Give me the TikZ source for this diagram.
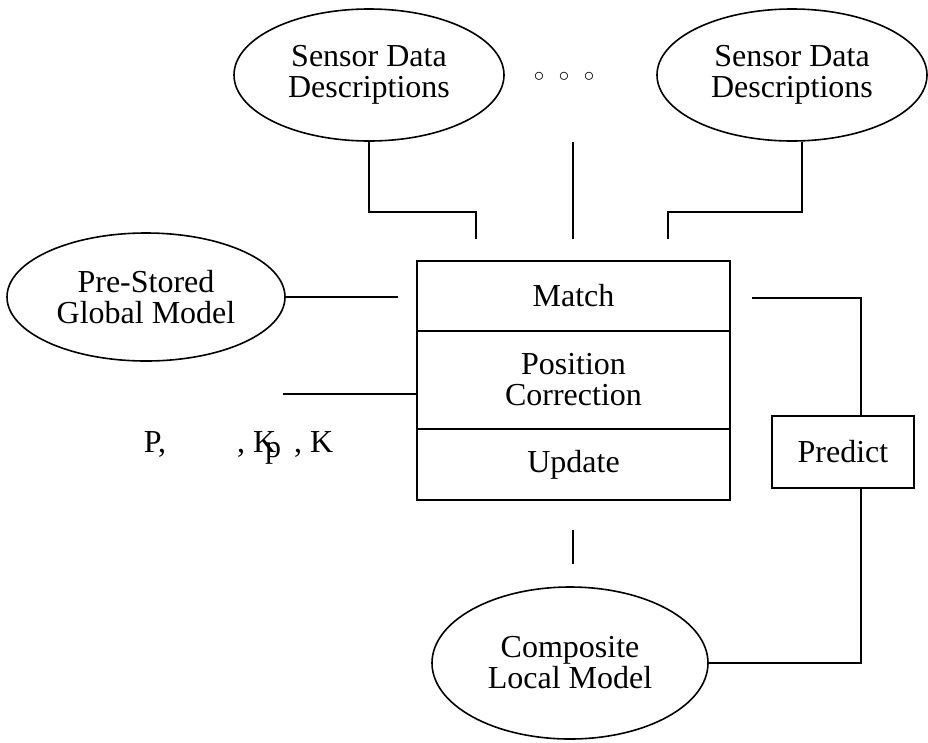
\documentclass[tikz,border=0pt]{standalone}
\usepackage{fontspec}
\setmainfont{Liberation Serif}
\usetikzlibrary{shapes.geometric}
\begin{document}
\begin{tikzpicture}[x=1pt,y=-1pt,line width=1.6pt,font=\fontsize{32}{31}\selectfont]
\tikzstyle{blob} = [ellipse, draw=black, inner sep=0pt, minimum width=270pt, align=center]
\tikzstyle{stage} = [rectangle, draw=black, minimum width=313pt, align=center]
\tikzstyle{edge} = [draw=black]
\useasboundingbox (0,0) rectangle (928,742);

\node[blob, minimum height=132pt] (sd1) at (369,75) {Sensor Data\\Descriptions};
\node[blob, minimum height=132pt] (sd2) at (792,75) {Sensor Data\\Descriptions};
\node (dots) at (564,77) {\fontsize{22}{22}\selectfont$\circ\hspace{10pt}\circ\hspace{10pt}\circ$};
\node[blob, minimum width=278pt, minimum height=128pt] (psgm) at (146,297) {Pre-Stored\\Global Model};
\node[blob, minimum width=276pt, minimum height=152pt] (clm) at (570,663) {Composite\\Local Model};

\node[stage, minimum height=70pt] (match) at (573.5,296) {Match};
\node[stage, minimum height=98pt] (poscor) at (573.5,380) {Position\\Correction};
\node[stage, minimum height=71pt] (upd) at (573.5,464.5) {Update};
\node[rectangle, draw=black, minimum width=142pt, minimum height=72pt] (pred) at (843,452) {Predict};

\node[anchor=base west, inner sep=0pt] (params) at (143,452) {P,\hspace{71pt}, K\kern-11pt\raisebox{-5pt}{p}\hspace{5pt} , K};

\coordinate (k1) at (476,212);
\coordinate (c1) at (476,239);
\coordinate (c2a) at (573,142);
\coordinate (c2b) at (573,239);
\coordinate (k3) at (802,212);
\coordinate (c3) at (668,239);
\coordinate (c4) at (398,297);
\coordinate (c5) at (283,394);
\coordinate (c6) at (752,298);
\coordinate (k6) at (861,298);
\coordinate (c7a) at (573,530);
\coordinate (c7b) at (573,564);

\draw[edge] (sd1.south) |- (k1) -- (c1);
\draw[edge] (c2a) -- (c2b);
\draw[edge] (c3) |- (k3) -- (k3 |- sd2.south);
\draw[edge] (psgm.east) -- (c4);
\draw[edge] (c5) -- (c5 -| poscor.west);
\draw[edge] (c6) -- (k6) -- (k6 |- pred.north);
\draw[edge] (k6 |- pred.south) |- (clm.east);
\draw[edge] (c7a) -- (c7b);
\end{tikzpicture}
\end{document}
